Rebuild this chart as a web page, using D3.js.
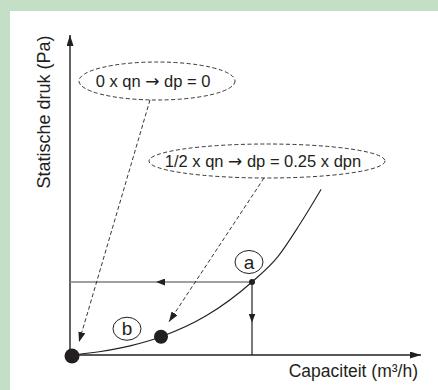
<!DOCTYPE html>
<html>
<head>
<meta charset="utf-8">
<script src="https://cdn.jsdelivr.net/npm/d3@7"></script>
<style>
  html, body { margin: 0; padding: 0; background: #c3dfc5; }
  svg { display: block; }
</style>
</head>
<body>
<script>
// Fan curve: static pressure vs. capacity, in % of nominal (qn, dpn)
const qn = 100;
const dpn = 100;

// Working point a and reduced point b (half capacity -> quarter pressure)
const pointA = { q: qn, dp: dpn, label: "a" };
const pointB = { q: qn / 2, dp: dpn / 4, label: "b" };
const pointZero = { q: 0, dp: 0 };

// System curve traced through the working points
const curveQ  = [0, 16, 33, 50, 75, 100, 114, 126, 138];
const curveDp = [0, 4.5, 12.5, 25, 54, 100, 134, 178, 227];

const axisLabels = { x: "Capaciteit (m³/h)", y: "Statische druk (Pa)" };
const callouts = [
  { before: "0 x qn ", after: " dp = 0", target: pointZero },
  { before: "1/2 x qn ", after: " dp = 0.25 x dpn", target: pointB }
];

const W = 438, H = 390;
const ink = "#231f20";

const svg = d3.select("body").append("svg").attr("width", W).attr("height", H);

// White panel inside the green frame
svg.append("rect").attr("x", 10).attr("y", 11).attr("width", W - 10).attr("height", H - 11)
  .attr("fill", "#ffffff");

const x = d3.scaleLinear().domain([0, 192.3]).range([70, 420]);
const y = d3.scaleLinear().domain([0, 437]).range([355, 36]);

const defs = svg.append("defs");
function marker(id, w, h) {
  defs.append("marker").attr("id", id)
    .attr("viewBox", `0 0 ${w} ${h}`)
    .attr("refX", w).attr("refY", h / 2)
    .attr("markerWidth", w).attr("markerHeight", h)
    .attr("markerUnits", "userSpaceOnUse")
    .attr("orient", "auto")
    .append("path").attr("d", `M0,0L${w},${h / 2}L0,${h}Z`).attr("fill", ink);
}
marker("axisHead", 11, 7);
marker("dashHead", 10, 7);
marker("midHead", 9, 7);

const font = "'Liberation Sans', Arial, sans-serif";

// Axes
svg.append("line")
  .attr("x1", x(0)).attr("y1", y(0) + 1).attr("x2", x(0)).attr("y2", 35)
  .attr("stroke", ink).attr("stroke-width", 1.4).attr("marker-end", "url(#axisHead)");
svg.append("line")
  .attr("x1", x(0)).attr("y1", y(0)).attr("x2", 421).attr("y2", y(0))
  .attr("stroke", ink).attr("stroke-width", 1.4).attr("marker-end", "url(#axisHead)");

svg.append("text")
  .attr("transform", `translate(50,112) rotate(-90)`)
  .attr("text-anchor", "middle")
  .attr("font-family", font).attr("font-size", 18).attr("fill", ink)
  .text(axisLabels.y);
svg.append("text")
  .attr("x", 418).attr("y", 377)
  .attr("text-anchor", "end")
  .attr("font-family", font).attr("font-size", 17.5).attr("fill", ink)
  .text(axisLabels.x);

// Reading lines from working point a
const ax = x(pointA.q), ay = y(pointA.dp);
svg.append("line")
  .attr("x1", ax).attr("y1", ay).attr("x2", x(0)).attr("y2", ay)
  .attr("stroke", "#808080").attr("stroke-width", 1.3);
svg.append("line")
  .attr("x1", ax).attr("y1", ay).attr("x2", (ax + x(0)) / 2 - 5).attr("y2", ay)
  .attr("stroke", "none").attr("marker-end", "url(#midHead)");
svg.append("line")
  .attr("x1", ax).attr("y1", ay).attr("x2", ax).attr("y2", y(0))
  .attr("stroke", ink).attr("stroke-width", 1.2);
svg.append("line")
  .attr("x1", ax).attr("y1", ay).attr("x2", ax).attr("y2", (ay + y(0)) / 2 + 4)
  .attr("stroke", "none").attr("marker-end", "url(#midHead)");

// System curve
const line = d3.line()
  .x(i => x(curveQ[i]))
  .y(i => y(curveDp[i]))
  .curve(d3.curveMonotoneX);
svg.append("path")
  .attr("d", line(d3.range(curveQ.length)))
  .attr("fill", "none").attr("stroke", ink).attr("stroke-width", 1.1);

// Points
svg.append("circle").attr("cx", x(pointZero.q) + 2).attr("cy", y(pointZero.dp) + 1).attr("r", 7.5).attr("fill", ink);
svg.append("circle").attr("cx", x(pointB.q)).attr("cy", y(pointB.dp)).attr("r", 7).attr("fill", ink);
svg.append("circle").attr("cx", ax).attr("cy", ay).attr("r", 3).attr("fill", ink);

// Circled letters
function tag(cx, cy, t) {
  svg.append("ellipse").attr("cx", cx).attr("cy", cy).attr("rx", 14).attr("ry", 11.5)
    .attr("fill", "#fff").attr("stroke", ink).attr("stroke-width", 1);
  svg.append("text").attr("x", cx).attr("y", cy + 6.5)
    .attr("text-anchor", "middle")
    .attr("font-family", font).attr("font-size", 19).attr("fill", ink)
    .text(t);
}
tag(ax - 3, ay - 20, pointA.label);
tag(x(pointB.q) - 34, y(pointB.dp) - 8, pointB.label);

// Dashed callouts
const bubbles = [
  { cx: 157, cy: 81, rx: 78, ry: 19, from: [150, 100], tip: [x(pointZero.q) + 9, y(pointZero.dp) - 13] },
  { cx: 267, cy: 161, rx: 118, ry: 17, from: [264, 178], tip: [x(pointB.q) + 8, y(pointB.dp) - 15] }
];
bubbles.forEach((b, i) => {
  svg.append("line")
    .attr("x1", b.from[0]).attr("y1", b.from[1]).attr("x2", b.tip[0]).attr("y2", b.tip[1])
    .attr("stroke", ink).attr("stroke-width", 0.9).attr("stroke-dasharray", "4,2.5")
    .attr("marker-end", "url(#dashHead)");
  svg.append("ellipse").attr("cx", b.cx).attr("cy", b.cy).attr("rx", b.rx).attr("ry", b.ry)
    .attr("fill", "#fff").attr("stroke", ink).attr("stroke-width", 0.9)
    .attr("stroke-dasharray", "4,2.5");
  const t = svg.append("text").attr("x", b.cx - 4).attr("y", b.cy + 5.5)
    .attr("text-anchor", "middle")
    .attr("font-family", font).attr("font-size", 16.5).attr("fill", ink);
  t.append("tspan").text(callouts[i].before);
  t.append("tspan").attr("font-family", "'DejaVu Sans', sans-serif").attr("font-size", 17)
    .text("\u2192");
  t.append("tspan").text(callouts[i].after);
});
</script>
</body>
</html>
